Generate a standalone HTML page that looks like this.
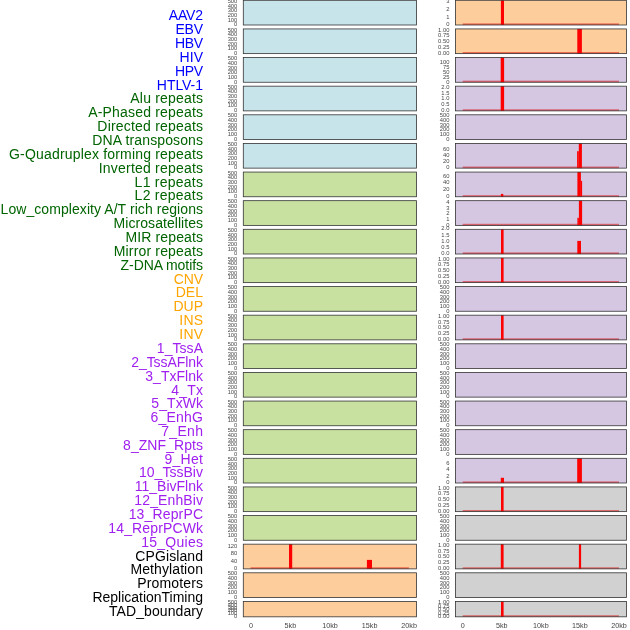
<!DOCTYPE html><html><head><meta charset="utf-8"><style>html,body{margin:0;padding:0;background:#fff;}svg{display:block;will-change:transform}text{text-rendering:optimizeLegibility}</style></head><body>
<svg width="630" height="630" viewBox="0 0 630 630">
<g font-family="Liberation Sans, sans-serif" font-size="14" text-anchor="end">
<text x="203" y="20.00" fill="#0000ff" textLength="34.29" lengthAdjust="spacing">AAV2</text>
<text x="203" y="34.00" fill="#0000ff" textLength="27.62" lengthAdjust="spacing">EBV</text>
<text x="203" y="48.00" fill="#0000ff" textLength="27.89" lengthAdjust="spacing">HBV</text>
<text x="203" y="62.00" fill="#0000ff" textLength="23.55" lengthAdjust="spacing">HIV</text>
<text x="203" y="76.00" fill="#0000ff" textLength="27.89" lengthAdjust="spacing">HPV</text>
<text x="203" y="90.00" fill="#0000ff" textLength="46.18" lengthAdjust="spacing">HTLV-1</text>
<text x="203" y="103.00" fill="#006400" textLength="72.65" lengthAdjust="spacing">Alu repeats</text>
<text x="203" y="117.00" fill="#006400" textLength="114.76" lengthAdjust="spacing">A-Phased repeats</text>
<text x="203" y="131.00" fill="#006400" textLength="105.65" lengthAdjust="spacing">Directed repeats</text>
<text x="203" y="145.00" fill="#006400" textLength="110.65" lengthAdjust="spacing">DNA transposons</text>
<text x="203" y="159.00" fill="#006400" textLength="193.98" lengthAdjust="spacing">G-Quadruplex forming repeats</text>
<text x="203" y="173.00" fill="#006400" textLength="104.27" lengthAdjust="spacing">Inverted repeats</text>
<text x="203" y="187.00" fill="#006400" textLength="68.38" lengthAdjust="spacing">L1 repeats</text>
<text x="203" y="200.00" fill="#006400" textLength="68.38" lengthAdjust="spacing">L2 repeats</text>
<text x="203" y="214.00" fill="#006400" textLength="202.44" lengthAdjust="spacing">Low_complexity A/T rich regions</text>
<text x="203" y="228.00" fill="#006400" textLength="89.38" lengthAdjust="spacing">Microsatellites</text>
<text x="203" y="242.00" fill="#006400" textLength="77.56" lengthAdjust="spacing">MIR repeats</text>
<text x="203" y="256.00" fill="#006400" textLength="89.25" lengthAdjust="spacing">Mirror repeats</text>
<text x="203" y="270.00" fill="#006400" textLength="82.43" lengthAdjust="spacing">Z-DNA motifs</text>
<text x="203" y="284.00" fill="#ffa500" textLength="29.32" lengthAdjust="spacing">CNV</text>
<text x="203" y="297.00" fill="#ffa500" textLength="27.34" lengthAdjust="spacing">DEL</text>
<text x="203" y="311.00" fill="#ffa500" textLength="29.50" lengthAdjust="spacing">DUP</text>
<text x="203" y="325.00" fill="#ffa500" textLength="23.64" lengthAdjust="spacing">INS</text>
<text x="203" y="339.00" fill="#ffa500" textLength="23.64" lengthAdjust="spacing">INV</text>
<text x="203" y="353.00" fill="#a020f0" textLength="46.14" lengthAdjust="spacing">1_TssA</text>
<text x="203" y="367.00" fill="#a020f0" textLength="71.81" lengthAdjust="spacing">2_TssAFlnk</text>
<text x="203" y="381.00" fill="#a020f0" textLength="57.68" lengthAdjust="spacing">3_TxFlnk</text>
<text x="203" y="395.00" fill="#a020f0" textLength="31.86" lengthAdjust="spacing">4_Tx</text>
<text x="203" y="408.00" fill="#a020f0" textLength="51.66" lengthAdjust="spacing">5_TxWk</text>
<text x="203" y="422.00" fill="#a020f0" textLength="52.57" lengthAdjust="spacing">6_EnhG</text>
<text x="203" y="436.00" fill="#a020f0" textLength="41.77" lengthAdjust="spacing">7_Enh</text>
<text x="203" y="450.00" fill="#a020f0" textLength="79.96" lengthAdjust="spacing">8_ZNF_Rpts</text>
<text x="203" y="464.00" fill="#a020f0" textLength="38.56" lengthAdjust="spacing">9_Het</text>
<text x="203" y="477.00" fill="#a020f0" textLength="64.02" lengthAdjust="spacing">10_TssBiv</text>
<text x="203" y="491.00" fill="#a020f0" textLength="68.32" lengthAdjust="spacing">11_BivFlnk</text>
<text x="203" y="505.00" fill="#a020f0" textLength="68.63" lengthAdjust="spacing">12_EnhBiv</text>
<text x="203" y="519.00" fill="#a020f0" textLength="74.36" lengthAdjust="spacing">13_ReprPC</text>
<text x="203" y="533.00" fill="#a020f0" textLength="94.68" lengthAdjust="spacing">14_ReprPCWk</text>
<text x="203" y="547.00" fill="#a020f0" textLength="61.86" lengthAdjust="spacing">15_Quies</text>
<text x="203" y="561.00" fill="#000000" textLength="67.71" lengthAdjust="spacing">CPGisland</text>
<text x="203" y="574.00" fill="#000000" textLength="72.57" lengthAdjust="spacing">Methylation</text>
<text x="203" y="588.00" fill="#000000" textLength="65.82" lengthAdjust="spacing">Promoters</text>
<text x="203" y="602.00" fill="#000000" textLength="110.58" lengthAdjust="spacing">ReplicationTiming</text>
<text x="203" y="616.00" fill="#000000" textLength="94.00" lengthAdjust="spacing">TAD_boundary</text>
</g>
<rect x="243.30" y="0.30" width="173.20" height="24.70" fill="#c8e4eb"/>
<g font-family="Liberation Sans, sans-serif" font-size="5.8" fill="#474747" text-anchor="end">
<text x="237.3" y="2.90">500</text>
<text x="237.3" y="7.58">400</text>
<text x="237.3" y="12.26">300</text>
<text x="237.3" y="16.94">200</text>
<text x="237.3" y="21.62">100</text>
<text x="237.3" y="26.30">0</text>
</g>
<rect x="243.30" y="0.30" width="173.20" height="24.70" fill="none" stroke="#333" stroke-width="0.8"/>
<rect x="455.40" y="0.30" width="171.00" height="24.70" fill="#fecd9c"/>
<g font-family="Liberation Sans, sans-serif" font-size="5.8" fill="#474747" text-anchor="end">
<text x="449.4" y="2.90">3</text>
<text x="449.4" y="10.70">2</text>
<text x="449.4" y="18.50">1</text>
<text x="449.4" y="26.30">0</text>
</g>
<rect x="462.70" y="23.40" width="156.30" height="1.6" fill="#e00000" fill-opacity="0.5"/>
<rect x="500.90" y="0.30" width="3.10" height="24.70" fill="#ff0000"/>
<rect x="455.40" y="0.30" width="171.00" height="24.70" fill="none" stroke="#333" stroke-width="0.8"/>
<rect x="243.30" y="28.93" width="173.20" height="24.70" fill="#c8e4eb"/>
<g font-family="Liberation Sans, sans-serif" font-size="5.8" fill="#474747" text-anchor="end">
<text x="237.3" y="31.53">500</text>
<text x="237.3" y="36.20">400</text>
<text x="237.3" y="40.89">300</text>
<text x="237.3" y="45.56">200</text>
<text x="237.3" y="50.24">100</text>
<text x="237.3" y="54.92">0</text>
</g>
<rect x="243.30" y="28.93" width="173.20" height="24.70" fill="none" stroke="#333" stroke-width="0.8"/>
<rect x="455.40" y="28.93" width="171.00" height="24.70" fill="#fecd9c"/>
<g font-family="Liberation Sans, sans-serif" font-size="5.8" fill="#474747" text-anchor="end">
<text x="449.4" y="31.53">1.00</text>
<text x="449.4" y="37.38">0.75</text>
<text x="449.4" y="43.23">0.50</text>
<text x="449.4" y="49.07">0.25</text>
<text x="449.4" y="54.92">0.00</text>
</g>
<rect x="462.70" y="52.02" width="156.30" height="1.6" fill="#e00000" fill-opacity="0.5"/>
<rect x="577.30" y="28.93" width="4.60" height="24.70" fill="#ff0000"/>
<rect x="455.40" y="28.93" width="171.00" height="24.70" fill="none" stroke="#333" stroke-width="0.8"/>
<rect x="243.30" y="57.55" width="173.20" height="24.70" fill="#c8e4eb"/>
<g font-family="Liberation Sans, sans-serif" font-size="5.8" fill="#474747" text-anchor="end">
<text x="237.3" y="60.15">500</text>
<text x="237.3" y="64.83">400</text>
<text x="237.3" y="69.51">300</text>
<text x="237.3" y="74.19">200</text>
<text x="237.3" y="78.87">100</text>
<text x="237.3" y="83.55">0</text>
</g>
<rect x="243.30" y="57.55" width="173.20" height="24.70" fill="none" stroke="#333" stroke-width="0.8"/>
<rect x="455.40" y="57.55" width="171.00" height="24.70" fill="#d5c6e2"/>
<g font-family="Liberation Sans, sans-serif" font-size="5.8" fill="#474747" text-anchor="end">
<text x="449.4" y="63.72">100</text>
<text x="449.4" y="68.68">75</text>
<text x="449.4" y="73.63">50</text>
<text x="449.4" y="78.59">25</text>
<text x="449.4" y="83.55">0</text>
</g>
<rect x="462.70" y="80.65" width="156.30" height="1.6" fill="#e00000" fill-opacity="0.5"/>
<rect x="500.70" y="57.55" width="3.40" height="24.70" fill="#ff0000"/>
<rect x="455.40" y="57.55" width="171.00" height="24.70" fill="none" stroke="#333" stroke-width="0.8"/>
<rect x="243.30" y="86.17" width="173.20" height="24.70" fill="#c8e4eb"/>
<g font-family="Liberation Sans, sans-serif" font-size="5.8" fill="#474747" text-anchor="end">
<text x="237.3" y="88.77">500</text>
<text x="237.3" y="93.45">400</text>
<text x="237.3" y="98.13">300</text>
<text x="237.3" y="102.81">200</text>
<text x="237.3" y="107.49">100</text>
<text x="237.3" y="112.17">0</text>
</g>
<rect x="243.30" y="86.17" width="173.20" height="24.70" fill="none" stroke="#333" stroke-width="0.8"/>
<rect x="455.40" y="86.17" width="171.00" height="24.70" fill="#d5c6e2"/>
<g font-family="Liberation Sans, sans-serif" font-size="5.8" fill="#474747" text-anchor="end">
<text x="449.4" y="88.77">2.0</text>
<text x="449.4" y="94.62">1.5</text>
<text x="449.4" y="100.47">1.0</text>
<text x="449.4" y="106.32">0.5</text>
<text x="449.4" y="112.17">0.0</text>
</g>
<rect x="462.70" y="109.28" width="156.30" height="1.6" fill="#e00000" fill-opacity="0.5"/>
<rect x="500.70" y="86.17" width="3.40" height="24.70" fill="#ff0000"/>
<rect x="455.40" y="86.17" width="171.00" height="24.70" fill="none" stroke="#333" stroke-width="0.8"/>
<rect x="243.30" y="114.80" width="173.20" height="24.70" fill="#c8e4eb"/>
<g font-family="Liberation Sans, sans-serif" font-size="5.8" fill="#474747" text-anchor="end">
<text x="237.3" y="117.40">500</text>
<text x="237.3" y="122.08">400</text>
<text x="237.3" y="126.76">300</text>
<text x="237.3" y="131.44">200</text>
<text x="237.3" y="136.12">100</text>
<text x="237.3" y="140.80">0</text>
</g>
<rect x="243.30" y="114.80" width="173.20" height="24.70" fill="none" stroke="#333" stroke-width="0.8"/>
<rect x="455.40" y="114.80" width="171.00" height="24.70" fill="#d5c6e2"/>
<g font-family="Liberation Sans, sans-serif" font-size="5.8" fill="#474747" text-anchor="end">
<text x="449.4" y="117.40">500</text>
<text x="449.4" y="122.08">400</text>
<text x="449.4" y="126.76">300</text>
<text x="449.4" y="131.44">200</text>
<text x="449.4" y="136.12">100</text>
<text x="449.4" y="140.80">0</text>
</g>
<rect x="455.40" y="114.80" width="171.00" height="24.70" fill="none" stroke="#333" stroke-width="0.8"/>
<rect x="243.30" y="143.43" width="173.20" height="24.70" fill="#c8e4eb"/>
<g font-family="Liberation Sans, sans-serif" font-size="5.8" fill="#474747" text-anchor="end">
<text x="237.3" y="146.03">500</text>
<text x="237.3" y="150.71">400</text>
<text x="237.3" y="155.39">300</text>
<text x="237.3" y="160.06">200</text>
<text x="237.3" y="164.75">100</text>
<text x="237.3" y="169.43">0</text>
</g>
<rect x="243.30" y="143.43" width="173.20" height="24.70" fill="none" stroke="#333" stroke-width="0.8"/>
<rect x="455.40" y="143.43" width="171.00" height="24.70" fill="#d5c6e2"/>
<g font-family="Liberation Sans, sans-serif" font-size="5.8" fill="#474747" text-anchor="end">
<text x="449.4" y="151.17">60</text>
<text x="449.4" y="157.25">40</text>
<text x="449.4" y="163.34">20</text>
<text x="449.4" y="169.43">0</text>
</g>
<rect x="462.70" y="166.53" width="156.30" height="1.6" fill="#e00000" fill-opacity="0.5"/>
<rect x="577.10" y="151.20" width="1.70" height="16.93" fill="#ff0000"/>
<rect x="578.80" y="143.43" width="3.10" height="24.70" fill="#ff0000"/>
<rect x="455.40" y="143.43" width="171.00" height="24.70" fill="none" stroke="#333" stroke-width="0.8"/>
<rect x="243.30" y="172.05" width="173.20" height="24.70" fill="#c8e1a0"/>
<g font-family="Liberation Sans, sans-serif" font-size="5.8" fill="#474747" text-anchor="end">
<text x="237.3" y="174.65">500</text>
<text x="237.3" y="179.33">400</text>
<text x="237.3" y="184.01">300</text>
<text x="237.3" y="188.69">200</text>
<text x="237.3" y="193.37">100</text>
<text x="237.3" y="198.05">0</text>
</g>
<rect x="243.30" y="172.05" width="173.20" height="24.70" fill="none" stroke="#333" stroke-width="0.8"/>
<rect x="455.40" y="172.05" width="171.00" height="24.70" fill="#d5c6e2"/>
<g font-family="Liberation Sans, sans-serif" font-size="5.8" fill="#474747" text-anchor="end">
<text x="449.4" y="177.52">60</text>
<text x="449.4" y="184.37">40</text>
<text x="449.4" y="191.21">20</text>
<text x="449.4" y="198.05">0</text>
</g>
<rect x="462.70" y="195.15" width="156.30" height="1.6" fill="#e00000" fill-opacity="0.5"/>
<rect x="500.90" y="193.90" width="2.40" height="2.85" fill="#ff0000"/>
<rect x="577.40" y="172.05" width="3.50" height="24.70" fill="#ff0000"/>
<rect x="580.90" y="180.90" width="1.20" height="15.85" fill="#ff0000"/>
<rect x="455.40" y="172.05" width="171.00" height="24.70" fill="none" stroke="#333" stroke-width="0.8"/>
<rect x="243.30" y="200.68" width="173.20" height="24.70" fill="#c8e1a0"/>
<g font-family="Liberation Sans, sans-serif" font-size="5.8" fill="#474747" text-anchor="end">
<text x="237.3" y="203.28">500</text>
<text x="237.3" y="207.96">400</text>
<text x="237.3" y="212.64">300</text>
<text x="237.3" y="217.31">200</text>
<text x="237.3" y="222.00">100</text>
<text x="237.3" y="226.68">0</text>
</g>
<rect x="243.30" y="200.68" width="173.20" height="24.70" fill="none" stroke="#333" stroke-width="0.8"/>
<rect x="455.40" y="200.68" width="171.00" height="24.70" fill="#d5c6e2"/>
<g font-family="Liberation Sans, sans-serif" font-size="5.8" fill="#474747" text-anchor="end">
<text x="449.4" y="203.79">4</text>
<text x="449.4" y="209.51">3</text>
<text x="449.4" y="215.23">2</text>
<text x="449.4" y="220.95">1</text>
<text x="449.4" y="226.68">0</text>
</g>
<rect x="462.70" y="223.78" width="156.30" height="1.6" fill="#e00000" fill-opacity="0.5"/>
<rect x="577.40" y="217.80" width="1.50" height="7.57" fill="#ff0000"/>
<rect x="578.90" y="200.68" width="3.20" height="24.70" fill="#ff0000"/>
<rect x="455.40" y="200.68" width="171.00" height="24.70" fill="none" stroke="#333" stroke-width="0.8"/>
<rect x="243.30" y="229.30" width="173.20" height="24.70" fill="#c8e1a0"/>
<g font-family="Liberation Sans, sans-serif" font-size="5.8" fill="#474747" text-anchor="end">
<text x="237.3" y="231.90">500</text>
<text x="237.3" y="236.58">400</text>
<text x="237.3" y="241.26">300</text>
<text x="237.3" y="245.94">200</text>
<text x="237.3" y="250.62">100</text>
<text x="237.3" y="255.30">0</text>
</g>
<rect x="243.30" y="229.30" width="173.20" height="24.70" fill="none" stroke="#333" stroke-width="0.8"/>
<rect x="455.40" y="229.30" width="171.00" height="24.70" fill="#d5c6e2"/>
<g font-family="Liberation Sans, sans-serif" font-size="5.8" fill="#474747" text-anchor="end">
<text x="449.4" y="230.41">2.0</text>
<text x="449.4" y="236.63">1.5</text>
<text x="449.4" y="242.85">1.0</text>
<text x="449.4" y="249.08">0.5</text>
<text x="449.4" y="255.30">0.0</text>
</g>
<rect x="462.70" y="252.40" width="156.30" height="1.6" fill="#e00000" fill-opacity="0.5"/>
<rect x="501.00" y="229.30" width="2.60" height="24.70" fill="#ff0000"/>
<rect x="577.30" y="240.90" width="3.70" height="13.10" fill="#ff0000"/>
<rect x="455.40" y="229.30" width="171.00" height="24.70" fill="none" stroke="#333" stroke-width="0.8"/>
<rect x="243.30" y="257.93" width="173.20" height="24.70" fill="#c8e1a0"/>
<g font-family="Liberation Sans, sans-serif" font-size="5.8" fill="#474747" text-anchor="end">
<text x="237.3" y="260.53">500</text>
<text x="237.3" y="265.21">400</text>
<text x="237.3" y="269.89">300</text>
<text x="237.3" y="274.56">200</text>
<text x="237.3" y="279.25">100</text>
<text x="237.3" y="283.93">0</text>
</g>
<rect x="243.30" y="257.93" width="173.20" height="24.70" fill="none" stroke="#333" stroke-width="0.8"/>
<rect x="455.40" y="257.93" width="171.00" height="24.70" fill="#d5c6e2"/>
<g font-family="Liberation Sans, sans-serif" font-size="5.8" fill="#474747" text-anchor="end">
<text x="449.4" y="260.53">1.00</text>
<text x="449.4" y="266.38">0.75</text>
<text x="449.4" y="272.23">0.50</text>
<text x="449.4" y="278.08">0.25</text>
<text x="449.4" y="283.93">0.00</text>
</g>
<rect x="462.70" y="281.02" width="156.30" height="1.6" fill="#e00000" fill-opacity="0.5"/>
<rect x="501.00" y="257.93" width="2.60" height="24.70" fill="#ff0000"/>
<rect x="455.40" y="257.93" width="171.00" height="24.70" fill="none" stroke="#333" stroke-width="0.8"/>
<rect x="243.30" y="286.55" width="173.20" height="24.70" fill="#c8e1a0"/>
<g font-family="Liberation Sans, sans-serif" font-size="5.8" fill="#474747" text-anchor="end">
<text x="237.3" y="289.15">500</text>
<text x="237.3" y="293.83">400</text>
<text x="237.3" y="298.51">300</text>
<text x="237.3" y="303.19">200</text>
<text x="237.3" y="307.87">100</text>
<text x="237.3" y="312.55">0</text>
</g>
<rect x="243.30" y="286.55" width="173.20" height="24.70" fill="none" stroke="#333" stroke-width="0.8"/>
<rect x="455.40" y="286.55" width="171.00" height="24.70" fill="#d5c6e2"/>
<g font-family="Liberation Sans, sans-serif" font-size="5.8" fill="#474747" text-anchor="end">
<text x="449.4" y="289.15">500</text>
<text x="449.4" y="293.83">400</text>
<text x="449.4" y="298.51">300</text>
<text x="449.4" y="303.19">200</text>
<text x="449.4" y="307.87">100</text>
<text x="449.4" y="312.55">0</text>
</g>
<rect x="455.40" y="286.55" width="171.00" height="24.70" fill="none" stroke="#333" stroke-width="0.8"/>
<rect x="243.30" y="315.18" width="173.20" height="24.70" fill="#c8e1a0"/>
<g font-family="Liberation Sans, sans-serif" font-size="5.8" fill="#474747" text-anchor="end">
<text x="237.3" y="317.78">500</text>
<text x="237.3" y="322.46">400</text>
<text x="237.3" y="327.14">300</text>
<text x="237.3" y="331.81">200</text>
<text x="237.3" y="336.50">100</text>
<text x="237.3" y="341.18">0</text>
</g>
<rect x="243.30" y="315.18" width="173.20" height="24.70" fill="none" stroke="#333" stroke-width="0.8"/>
<rect x="455.40" y="315.18" width="171.00" height="24.70" fill="#d5c6e2"/>
<g font-family="Liberation Sans, sans-serif" font-size="5.8" fill="#474747" text-anchor="end">
<text x="449.4" y="317.78">1.00</text>
<text x="449.4" y="323.62">0.75</text>
<text x="449.4" y="329.48">0.50</text>
<text x="449.4" y="335.33">0.25</text>
<text x="449.4" y="341.18">0.00</text>
</g>
<rect x="462.70" y="338.27" width="156.30" height="1.6" fill="#e00000" fill-opacity="0.5"/>
<rect x="501.00" y="315.18" width="2.60" height="24.70" fill="#ff0000"/>
<rect x="455.40" y="315.18" width="171.00" height="24.70" fill="none" stroke="#333" stroke-width="0.8"/>
<rect x="243.30" y="343.80" width="173.20" height="24.70" fill="#c8e1a0"/>
<g font-family="Liberation Sans, sans-serif" font-size="5.8" fill="#474747" text-anchor="end">
<text x="237.3" y="346.40">500</text>
<text x="237.3" y="351.08">400</text>
<text x="237.3" y="355.76">300</text>
<text x="237.3" y="360.44">200</text>
<text x="237.3" y="365.12">100</text>
<text x="237.3" y="369.80">0</text>
</g>
<rect x="243.30" y="343.80" width="173.20" height="24.70" fill="none" stroke="#333" stroke-width="0.8"/>
<rect x="455.40" y="343.80" width="171.00" height="24.70" fill="#d5c6e2"/>
<g font-family="Liberation Sans, sans-serif" font-size="5.8" fill="#474747" text-anchor="end">
<text x="449.4" y="346.40">500</text>
<text x="449.4" y="351.08">400</text>
<text x="449.4" y="355.76">300</text>
<text x="449.4" y="360.44">200</text>
<text x="449.4" y="365.12">100</text>
<text x="449.4" y="369.80">0</text>
</g>
<rect x="455.40" y="343.80" width="171.00" height="24.70" fill="none" stroke="#333" stroke-width="0.8"/>
<rect x="243.30" y="372.43" width="173.20" height="24.70" fill="#c8e1a0"/>
<g font-family="Liberation Sans, sans-serif" font-size="5.8" fill="#474747" text-anchor="end">
<text x="237.3" y="375.03">500</text>
<text x="237.3" y="379.71">400</text>
<text x="237.3" y="384.39">300</text>
<text x="237.3" y="389.06">200</text>
<text x="237.3" y="393.75">100</text>
<text x="237.3" y="398.43">0</text>
</g>
<rect x="243.30" y="372.43" width="173.20" height="24.70" fill="none" stroke="#333" stroke-width="0.8"/>
<rect x="455.40" y="372.43" width="171.00" height="24.70" fill="#d5c6e2"/>
<g font-family="Liberation Sans, sans-serif" font-size="5.8" fill="#474747" text-anchor="end">
<text x="449.4" y="375.03">500</text>
<text x="449.4" y="379.71">400</text>
<text x="449.4" y="384.39">300</text>
<text x="449.4" y="389.06">200</text>
<text x="449.4" y="393.75">100</text>
<text x="449.4" y="398.43">0</text>
</g>
<rect x="455.40" y="372.43" width="171.00" height="24.70" fill="none" stroke="#333" stroke-width="0.8"/>
<rect x="243.30" y="401.05" width="173.20" height="24.70" fill="#c8e1a0"/>
<g font-family="Liberation Sans, sans-serif" font-size="5.8" fill="#474747" text-anchor="end">
<text x="237.3" y="403.65">500</text>
<text x="237.3" y="408.33">400</text>
<text x="237.3" y="413.01">300</text>
<text x="237.3" y="417.69">200</text>
<text x="237.3" y="422.37">100</text>
<text x="237.3" y="427.05">0</text>
</g>
<rect x="243.30" y="401.05" width="173.20" height="24.70" fill="none" stroke="#333" stroke-width="0.8"/>
<rect x="455.40" y="401.05" width="171.00" height="24.70" fill="#d5c6e2"/>
<g font-family="Liberation Sans, sans-serif" font-size="5.8" fill="#474747" text-anchor="end">
<text x="449.4" y="403.65">500</text>
<text x="449.4" y="408.33">400</text>
<text x="449.4" y="413.01">300</text>
<text x="449.4" y="417.69">200</text>
<text x="449.4" y="422.37">100</text>
<text x="449.4" y="427.05">0</text>
</g>
<rect x="455.40" y="401.05" width="171.00" height="24.70" fill="none" stroke="#333" stroke-width="0.8"/>
<rect x="243.30" y="429.68" width="173.20" height="24.70" fill="#c8e1a0"/>
<g font-family="Liberation Sans, sans-serif" font-size="5.8" fill="#474747" text-anchor="end">
<text x="237.3" y="432.28">500</text>
<text x="237.3" y="436.96">400</text>
<text x="237.3" y="441.64">300</text>
<text x="237.3" y="446.31">200</text>
<text x="237.3" y="451.00">100</text>
<text x="237.3" y="455.68">0</text>
</g>
<rect x="243.30" y="429.68" width="173.20" height="24.70" fill="none" stroke="#333" stroke-width="0.8"/>
<rect x="455.40" y="429.68" width="171.00" height="24.70" fill="#d5c6e2"/>
<g font-family="Liberation Sans, sans-serif" font-size="5.8" fill="#474747" text-anchor="end">
<text x="449.4" y="432.28">500</text>
<text x="449.4" y="436.96">400</text>
<text x="449.4" y="441.64">300</text>
<text x="449.4" y="446.31">200</text>
<text x="449.4" y="451.00">100</text>
<text x="449.4" y="455.68">0</text>
</g>
<rect x="455.40" y="429.68" width="171.00" height="24.70" fill="none" stroke="#333" stroke-width="0.8"/>
<rect x="243.30" y="458.30" width="173.20" height="24.70" fill="#c8e1a0"/>
<g font-family="Liberation Sans, sans-serif" font-size="5.8" fill="#474747" text-anchor="end">
<text x="237.3" y="460.90">500</text>
<text x="237.3" y="465.58">400</text>
<text x="237.3" y="470.26">300</text>
<text x="237.3" y="474.94">200</text>
<text x="237.3" y="479.62">100</text>
<text x="237.3" y="484.30">0</text>
</g>
<rect x="243.30" y="458.30" width="173.20" height="24.70" fill="none" stroke="#333" stroke-width="0.8"/>
<rect x="455.40" y="458.30" width="171.00" height="24.70" fill="#d5c6e2"/>
<g font-family="Liberation Sans, sans-serif" font-size="5.8" fill="#474747" text-anchor="end">
<text x="449.4" y="464.80">6</text>
<text x="449.4" y="471.30">4</text>
<text x="449.4" y="477.80">2</text>
<text x="449.4" y="484.30">0</text>
</g>
<rect x="462.70" y="481.40" width="156.30" height="1.6" fill="#e00000" fill-opacity="0.5"/>
<rect x="500.80" y="477.80" width="3.20" height="5.20" fill="#ff0000"/>
<rect x="577.20" y="458.30" width="4.70" height="24.70" fill="#ff0000"/>
<rect x="455.40" y="458.30" width="171.00" height="24.70" fill="none" stroke="#333" stroke-width="0.8"/>
<rect x="243.30" y="486.93" width="173.20" height="24.70" fill="#c8e1a0"/>
<g font-family="Liberation Sans, sans-serif" font-size="5.8" fill="#474747" text-anchor="end">
<text x="237.3" y="489.53">500</text>
<text x="237.3" y="494.21">400</text>
<text x="237.3" y="498.89">300</text>
<text x="237.3" y="503.56">200</text>
<text x="237.3" y="508.25">100</text>
<text x="237.3" y="512.92">0</text>
</g>
<rect x="243.30" y="486.93" width="173.20" height="24.70" fill="none" stroke="#333" stroke-width="0.8"/>
<rect x="455.40" y="486.93" width="171.00" height="24.70" fill="#d1d1d1"/>
<g font-family="Liberation Sans, sans-serif" font-size="5.8" fill="#474747" text-anchor="end">
<text x="449.4" y="489.53">1.00</text>
<text x="449.4" y="495.38">0.75</text>
<text x="449.4" y="501.23">0.50</text>
<text x="449.4" y="507.08">0.25</text>
<text x="449.4" y="512.92">0.00</text>
</g>
<rect x="462.70" y="510.02" width="156.30" height="1.6" fill="#e00000" fill-opacity="0.5"/>
<rect x="501.00" y="486.93" width="2.60" height="24.70" fill="#ff0000"/>
<rect x="455.40" y="486.93" width="171.00" height="24.70" fill="none" stroke="#333" stroke-width="0.8"/>
<rect x="243.30" y="515.55" width="173.20" height="24.70" fill="#c8e1a0"/>
<g font-family="Liberation Sans, sans-serif" font-size="5.8" fill="#474747" text-anchor="end">
<text x="237.3" y="518.15">500</text>
<text x="237.3" y="522.83">400</text>
<text x="237.3" y="527.51">300</text>
<text x="237.3" y="532.19">200</text>
<text x="237.3" y="536.87">100</text>
<text x="237.3" y="541.55">0</text>
</g>
<rect x="243.30" y="515.55" width="173.20" height="24.70" fill="none" stroke="#333" stroke-width="0.8"/>
<rect x="455.40" y="515.55" width="171.00" height="24.70" fill="#d1d1d1"/>
<g font-family="Liberation Sans, sans-serif" font-size="5.8" fill="#474747" text-anchor="end">
<text x="449.4" y="518.15">500</text>
<text x="449.4" y="522.83">400</text>
<text x="449.4" y="527.51">300</text>
<text x="449.4" y="532.19">200</text>
<text x="449.4" y="536.87">100</text>
<text x="449.4" y="541.55">0</text>
</g>
<rect x="455.40" y="515.55" width="171.00" height="24.70" fill="none" stroke="#333" stroke-width="0.8"/>
<rect x="243.30" y="544.17" width="173.20" height="24.70" fill="#fecd9c"/>
<g font-family="Liberation Sans, sans-serif" font-size="5.8" fill="#474747" text-anchor="end">
<text x="237.3" y="547.80">120</text>
<text x="237.3" y="555.26">80</text>
<text x="237.3" y="562.72">40</text>
<text x="237.3" y="570.17">0</text>
</g>
<rect x="250.50" y="567.27" width="158.40" height="1.6" fill="#e00000" fill-opacity="0.5"/>
<rect x="289.00" y="544.17" width="3.20" height="24.70" fill="#ff0000"/>
<rect x="366.90" y="559.90" width="5.10" height="8.98" fill="#ff0000"/>
<rect x="243.30" y="544.17" width="173.20" height="24.70" fill="none" stroke="#333" stroke-width="0.8"/>
<rect x="455.40" y="544.17" width="171.00" height="24.70" fill="#d1d1d1"/>
<g font-family="Liberation Sans, sans-serif" font-size="5.8" fill="#474747" text-anchor="end">
<text x="449.4" y="546.77">1.00</text>
<text x="449.4" y="552.62">0.75</text>
<text x="449.4" y="558.47">0.50</text>
<text x="449.4" y="564.32">0.25</text>
<text x="449.4" y="570.17">0.00</text>
</g>
<rect x="462.70" y="567.27" width="156.30" height="1.6" fill="#e00000" fill-opacity="0.5"/>
<rect x="500.80" y="544.17" width="2.80" height="24.70" fill="#ff0000"/>
<rect x="578.90" y="544.17" width="2.20" height="24.70" fill="#ff0000"/>
<rect x="455.40" y="544.17" width="171.00" height="24.70" fill="none" stroke="#333" stroke-width="0.8"/>
<rect x="243.30" y="572.80" width="173.20" height="24.70" fill="#fecd9c"/>
<g font-family="Liberation Sans, sans-serif" font-size="5.8" fill="#474747" text-anchor="end">
<text x="237.3" y="575.40">500</text>
<text x="237.3" y="580.08">400</text>
<text x="237.3" y="584.76">300</text>
<text x="237.3" y="589.44">200</text>
<text x="237.3" y="594.12">100</text>
<text x="237.3" y="598.80">0</text>
</g>
<rect x="243.30" y="572.80" width="173.20" height="24.70" fill="none" stroke="#333" stroke-width="0.8"/>
<rect x="455.40" y="572.80" width="171.00" height="24.70" fill="#d1d1d1"/>
<g font-family="Liberation Sans, sans-serif" font-size="5.8" fill="#474747" text-anchor="end">
<text x="449.4" y="575.40">500</text>
<text x="449.4" y="580.08">400</text>
<text x="449.4" y="584.76">300</text>
<text x="449.4" y="589.44">200</text>
<text x="449.4" y="594.12">100</text>
<text x="449.4" y="598.80">0</text>
</g>
<rect x="455.40" y="572.80" width="171.00" height="24.70" fill="none" stroke="#333" stroke-width="0.8"/>
<rect x="243.30" y="601.42" width="173.20" height="15.40" fill="#fecd9c"/>
<g font-family="Liberation Sans, sans-serif" font-size="5.8" fill="#474747" text-anchor="end">
<text x="237.3" y="604.02">500</text>
<text x="237.3" y="606.84">400</text>
<text x="237.3" y="609.66">300</text>
<text x="237.3" y="612.48">200</text>
<text x="237.3" y="615.30">100</text>
<text x="237.3" y="618.12">0</text>
</g>
<rect x="243.30" y="601.42" width="173.20" height="15.40" fill="none" stroke="#333" stroke-width="0.8"/>
<rect x="455.40" y="601.42" width="171.00" height="15.40" fill="#d1d1d1"/>
<g font-family="Liberation Sans, sans-serif" font-size="5.8" fill="#474747" text-anchor="end">
<text x="449.4" y="604.02">1.00</text>
<text x="449.4" y="607.55">0.75</text>
<text x="449.4" y="611.07">0.50</text>
<text x="449.4" y="614.60">0.25</text>
<text x="449.4" y="618.12">0.00</text>
</g>
<rect x="462.70" y="615.22" width="156.30" height="1.6" fill="#e00000" fill-opacity="0.5"/>
<rect x="501.00" y="601.42" width="2.60" height="15.40" fill="#ff0000"/>
<rect x="455.40" y="601.42" width="171.00" height="15.40" fill="none" stroke="#333" stroke-width="0.8"/>
<g font-family="Liberation Sans, sans-serif" font-size="7.2" fill="#444" text-anchor="middle">
<text x="250.9" y="628">0</text>
<text x="462.7" y="628">0</text>
<text x="290.4" y="628">5kb</text>
<text x="501.8" y="628">5kb</text>
<text x="330.0" y="628">10kb</text>
<text x="540.9" y="628">10kb</text>
<text x="369.6" y="628">15kb</text>
<text x="579.9" y="628">15kb</text>
<text x="409.1" y="628">20kb</text>
<text x="619.0" y="628">20kb</text>
</g>
</svg></body></html>
